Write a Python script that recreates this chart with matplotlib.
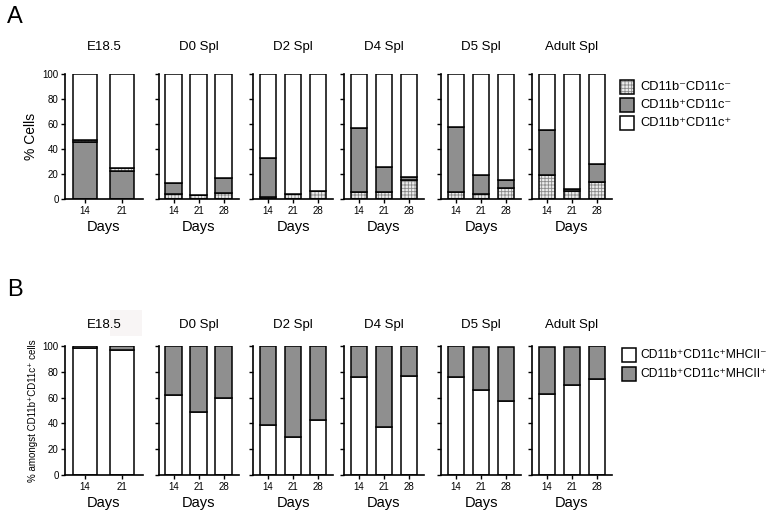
import matplotlib as mpl
mpl.use('agg')
import matplotlib.pyplot as plt
from matplotlib.patches import Rectangle

plt.rcParams['font.family'] = ['Liberation Sans', 'DejaVu Sans']
plt.rcParams['hatch.linewidth'] = 0.6

panels = ['E18.5', 'D0 Spl', 'D2 Spl', 'D4 Spl', 'D5 Spl', 'Adult Spl']
days = [['14', '21'], ['14', '21', '28'], ['14', '21', '28'],
        ['14', '21', '28'], ['14', '21', '28'], ['14', '21', '28']]

# panel A: % of cells
a_dn = [[1.5, 2.5], [4, 3.5, 4.8], [2, 4.5, 7], [6, 6, 15.5], [6, 4, 9], [19.5, 6.5, 14]]      # CD11b-CD11c-
a_grey = [[46, 22.5], [8.8, 0.3, 12.5], [31, 0, 0], [51, 20, 2], [52, 15, 6.5], [36, 1.5, 14]]  # CD11b+CD11c-

# panel B: % amongst CD11b+CD11c+ cells
b_neg = [[98.5, 97], [62, 48.5, 60], [39, 29.5, 43], [76, 37, 77], [76, 66, 57], [62.5, 70, 74]]
b_pos = [[1.5, 3], [38, 51.5, 40], [61, 70.5, 57], [24, 63, 23], [24, 33, 42], [36.5, 29, 26]]

W, H = 772, 516
GREY = '#8f8f8f'
HATCH_FC = '#ececec'
HATCH_EC = '#8a8a8a'

fig = plt.figure(figsize=(W / 100, H / 100), dpi=100)

lefts = [65, 158.5, 253, 344, 441, 532]


def px_axes(left, top, bottom, width):
    return fig.add_axes([left / W, 1 - bottom / H, width / W, (bottom - top) / H])


def hatched_bar(ax, x, h, b, w):
    ax.bar(x, h, w, bottom=b, color=HATCH_FC, edgecolor=HATCH_EC, hatch='+++++', linewidth=0)
    ax.bar(x, h, w, bottom=b, fill=False, edgecolor='black', linewidth=1.1)


def style_axes(ax, i, labels):
    n = len(labels)
    if n == 2:
        ax.set_xlim(-0.54, 1.56)
    else:
        ax.set_xlim(-0.6, 2.6)
    ax.set_ylim(0, 100)
    ax.set_yticks([0, 20, 40, 60, 80, 100])
    ax.set_xticks(range(n))
    ax.set_xticklabels(labels, fontsize=7)
    for s in ['top', 'right']:
        ax.spines[s].set_visible(False)
    for s in ['left', 'bottom']:
        ax.spines[s].set_linewidth(1.2)
    ax.tick_params(length=3, width=1, pad=1.5, labelsize=7)
    if i > 0:
        ax.set_yticklabels([])
    ax.set_xlabel('Days', fontsize=10.5, labelpad=3)


# ---- panel A ----
for i, name in enumerate(panels):
    w = 78 if i == 0 else 80
    ax = px_axes(lefts[i], 74, 199.3, w)
    bw = 0.66 if i == 0 else 0.65
    for j, d in enumerate(days[i]):
        dn = a_dn[i][j]
        gr = a_grey[i][j]
        if i == 0:
            # grey at the bottom, dotted on top
            ax.bar(j, gr, bw, color=GREY, edgecolor='black', linewidth=1.1)
            hatched_bar(ax, j, dn, gr, bw)
        else:
            hatched_bar(ax, j, dn, 0, bw)
            ax.bar(j, gr, bw, bottom=dn, color=GREY, edgecolor='black', linewidth=1.1)
        ax.bar(j, 100 - dn - gr, bw, bottom=dn + gr, color='white', edgecolor='black', linewidth=1.1)
    style_axes(ax, i, days[i])
    ax.set_title(name, fontsize=9.5, pad=17)
    if i == 0:
        ax.set_ylabel('% Cells', fontsize=10, labelpad=3)

# ---- panel B ----
for i, name in enumerate(panels):
    w = 78 if i == 0 else 80
    ax = px_axes(lefts[i], 345.7, 475.3, w)
    bw = 0.66 if i == 0 else 0.65
    for j, d in enumerate(days[i]):
        ax.bar(j, b_neg[i][j], bw, color='white', edgecolor='black', linewidth=1.1)
        ax.bar(j, b_pos[i][j], bw, bottom=b_neg[i][j], color=GREY, edgecolor='black', linewidth=1.1)
    style_axes(ax, i, days[i])
    ax.set_title(name, fontsize=9.5, pad=13)
    if i == 0:
        ax.set_ylabel('% amongst CD11b⁺CD11c⁺ cells', fontsize=7, labelpad=3)

# faint box behind the E18.5 title in B
fig.patches.append(Rectangle((110 / W, 1 - 336 / H), 32 / W, 26 / H, transform=fig.transFigure,
                             facecolor='#f8f5f5', edgecolor='none', zorder=-1))

# panel letters
fig.text(7 / W, 1 - 17 / H, 'A', fontsize=17, va='center', ha='left')
fig.text(7 / W, 1 - 290 / H, 'B', fontsize=17, va='center', ha='left')

# legend A
leg_a = [('dots', 'CD11b⁻CD11c⁻'),
         (GREY, 'CD11b⁺CD11c⁻'),
         ('white', 'CD11b⁺CD11c⁺')]
for k, (fc, lab) in enumerate(leg_a):
    yc = 87 + k * 18
    x0, y0 = 620 / W, 1 - (yc + 7) / H
    if fc == 'dots':
        fig.patches.append(Rectangle((x0, y0), 14 / W, 14 / H, transform=fig.transFigure,
                                     facecolor=HATCH_FC, edgecolor=HATCH_EC, hatch='+++++', linewidth=0))
        fig.patches.append(Rectangle((x0, y0), 14 / W, 14 / H, transform=fig.transFigure,
                                     fill=False, edgecolor='black', linewidth=1.1))
    else:
        fig.patches.append(Rectangle((x0, y0), 14 / W, 14 / H, transform=fig.transFigure,
                                     facecolor=fc, edgecolor='black', linewidth=1.1))
    fig.text(640 / W, 1 - yc / H, lab, fontsize=9.3, va='center', ha='left')

# legend B
leg_b = [('white', 'CD11b⁺CD11c⁺MHCII⁻'),
         (GREY, 'CD11b⁺CD11c⁺MHCII⁺')]
for k, (fc, lab) in enumerate(leg_b):
    yc = 355 + k * 19
    fig.patches.append(Rectangle((622 / W, 1 - (yc + 7) / H), 14 / W, 14 / H, transform=fig.transFigure,
                                 facecolor=fc, edgecolor='black', linewidth=1.1))
    fig.text(640 / W, 1 - yc / H, lab, fontsize=8.7, va='center', ha='left')

plt.savefig('out.png', dpi=100)
